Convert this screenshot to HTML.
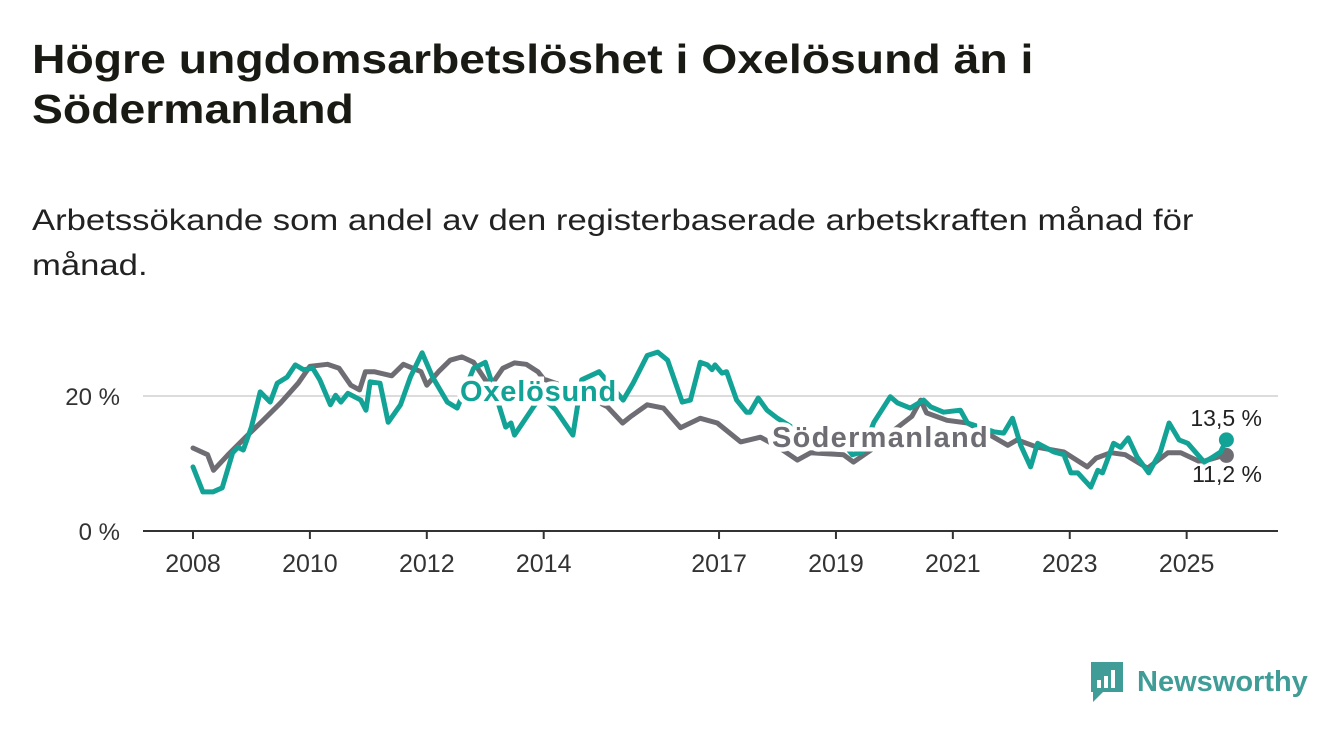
<!DOCTYPE html>
<html><head><meta charset="utf-8">
<style>
body{margin:0;width:1340px;height:734px;background:#fff;font-family:"Liberation Sans","DejaVu Sans",sans-serif;overflow:hidden;position:relative}
#title{position:absolute;left:32px;top:34px;font-size:41px;font-weight:bold;line-height:50px;color:#1a1a14;margin:0;transform:scaleX(1.13);transform-origin:0 0;white-space:nowrap}
#subtitle{position:absolute;left:32px;top:198px;font-size:30px;line-height:45px;color:#222;margin:0;transform:scaleX(1.155);transform-origin:0 0;white-space:nowrap}
svg{position:absolute;left:0;top:0}
</style></head><body>
<h1 id="title">Högre ungdomsarbetslöshet i Oxelösund än i<br>Södermanland</h1>
<p id="subtitle">Arbetssökande som andel av den registerbaserade arbetskraften månad för<br>månad.</p>
<svg id="chart" width="1340" height="734"></svg>
<script>
const sodYears=[2008.0,2008.25,2008.35,2008.6,2008.9,2009.2,2009.5,2009.8,2010.0,2010.3,2010.5,2010.7,2010.85,2010.95,2011.1,2011.4,2011.6,2011.9,2012.0,2012.2,2012.4,2012.6,2012.8,2013.0,2013.1,2013.3,2013.5,2013.7,2013.9,2014.0,2014.5,2015.09,2015.35,2015.48,2015.77,2016.05,2016.34,2016.68,2016.97,2017.37,2017.71,2018.0,2018.34,2018.57,2019.13,2019.3,2019.6,2020.0,2020.3,2020.45,2020.55,2020.9,2021.25,2021.7,2021.94,2022.1,2022.45,2022.9,2023.3,2023.45,2023.7,2023.95,2024.33,2024.68,2024.9,2025.24,2025.55,2025.68];
const sodValues=[12.3,11.3,9.0,11.3,13.9,16.4,19.0,21.9,24.4,24.7,24.1,21.6,20.9,23.6,23.6,23.0,24.7,23.6,21.6,23.6,25.3,25.8,25.0,22.4,21.6,24.1,24.9,24.7,23.6,22.5,21.0,18.4,16.0,16.9,18.7,18.2,15.3,16.7,16.0,13.2,13.9,12.5,10.5,11.6,11.3,10.2,12.0,15.0,17.0,19.4,17.5,16.4,16.0,13.9,12.7,13.5,12.4,11.7,9.5,10.8,11.6,11.3,9.3,11.6,11.6,10.2,11.0,11.2];
const oxeYears=[2008.0,2008.17,2008.34,2008.5,2008.68,2008.77,2008.86,2009.0,2009.15,2009.32,2009.44,2009.61,2009.75,2009.89,2010.05,2010.17,2010.35,2010.44,2010.53,2010.65,2010.87,2010.96,2011.03,2011.2,2011.34,2011.55,2011.72,2011.92,2012.1,2012.35,2012.52,2012.8,2013.0,2013.15,2013.35,2013.44,2013.5,2013.95,2014.2,2014.5,2014.65,2014.95,2015.36,2015.53,2015.77,2015.95,2016.12,2016.37,2016.51,2016.68,2016.8,2016.88,2016.93,2017.05,2017.13,2017.3,2017.47,2017.53,2017.67,2017.82,2018.0,2018.5,2019.0,2019.28,2019.45,2019.65,2019.93,2020.05,2020.27,2020.5,2020.62,2020.84,2021.13,2021.25,2021.7,2021.87,2022.02,2022.16,2022.33,2022.45,2022.73,2022.9,2023.02,2023.14,2023.36,2023.48,2023.56,2023.75,2023.87,2024.0,2024.15,2024.35,2024.55,2024.7,2024.87,2025.02,2025.3,2025.42,2025.58,2025.68];
const oxeValues=[9.5,5.8,5.8,6.4,11.6,12.4,12.0,15.4,20.6,19.1,21.9,22.8,24.6,23.9,24.1,22.4,18.7,20.1,19.1,20.4,19.4,17.9,22.1,21.9,16.1,18.7,22.8,26.4,22.8,19.1,18.2,24.1,25.0,21.0,15.4,16.0,14.2,20.0,18.0,14.2,22.4,23.6,19.4,21.9,26.0,26.5,25.3,19.1,19.4,25.0,24.6,23.9,24.6,23.4,23.6,19.4,17.6,17.6,19.7,17.9,16.7,14.0,14.5,11.3,11.7,16.1,19.9,19.0,18.2,19.4,18.4,17.6,17.9,16.0,14.7,14.5,16.7,12.7,9.5,13.0,11.7,11.3,8.6,8.6,6.5,9.0,8.6,13.0,12.4,13.8,11.0,8.6,11.7,16.0,13.5,13.0,10.2,10.8,11.7,13.5];
const yTicks=[0,20];
const xTicks=[2008,2010,2012,2014,2017,2019,2021,2023,2025];
const NS="http://www.w3.org/2000/svg";
const svg=document.getElementById('chart');
const x=v=>193+(v-2008)*58.45;
const y=v=>531-v*6.75;
function el(t,a,p){const e=document.createElementNS(NS,t);for(const k in a)e.setAttribute(k,a[k]);(p||svg).appendChild(e);return e;}
yTicks.forEach(t=>{
  if(t>0){const g=el('line',{x1:143,x2:1278,y1:y(t),y2:y(t),stroke:'#dcdcdc','stroke-width':2});
  
  }
  const l=el('text',{x:120,y:y(t)+9,'text-anchor':'end','font-size':24,fill:'#333'});
  l.textContent=t+' %';
  
  
});
xTicks.forEach(t=>{
  const tk=el('line',{x1:x(t),x2:x(t),y1:531,y2:539,stroke:'#333','stroke-width':2});
  
  
  const l=el('text',{x:x(t),y:572,'text-anchor':'middle','font-size':25,fill:'#333'});
  l.textContent=t;
  
  
});
const ax=el('line',{x1:143,x2:1278,y1:531,y2:531,stroke:'#333','stroke-width':2});


function series(xs,vs,color,name){
  const d=xs.map((t,i)=>(i?'L':'M')+x(t).toFixed(1)+','+y(vs[i]).toFixed(1)).join('');
  const p=el('path',{d:d,fill:'none',stroke:color,'stroke-width':5,'stroke-linejoin':'round','stroke-linecap':'round'});
  
  
  const c=el('circle',{cx:x(xs[xs.length-1]),cy:y(vs[vs.length-1]),r:7.5,fill:color});
  
  
}
series(sodYears,sodValues,'#6e6d73','sodermanland-line');
series(oxeYears,oxeValues,'#13a396','oxelosund-line');
function label(txt,lx,ly,color,name,opts){
  const t=el('text',{x:lx,y:ly,fill:color,stroke:'#fff','stroke-width':opts.sw||0,'paint-order':'stroke','font-size':opts.fs,'font-weight':opts.fw||'normal','text-anchor':opts.anchor||'start','letter-spacing':opts.ls||0});
  t.textContent=txt;
  
  
}
label('Oxelösund',460,401,'#13a396','oxelosund-label',{fs:29,fw:'bold',sw:9,ls:0.8});
label('Södermanland',772,447,'#6e6d73','sodermanland-label',{fs:29,fw:'bold',sw:9,ls:1.3});
label('13,5 %',1262,426,'#222','oxelosund-last-value',{fs:23,anchor:'end',sw:5});
label('11,2 %',1262,482,'#222','sodermanland-last-value',{fs:23,anchor:'end',sw:5});
</script>
<div style="position:absolute;left:1089px;top:660px;height:44px;display:flex;align-items:center">
  <svg width="36" height="44" style="position:static"><path d="M2 2h32v30H14l-10 10v-10H2z" fill="#3f9c96"/><rect x="8" y="20" width="4" height="8" fill="#fff"/><rect x="15" y="16" width="4" height="12" fill="#fff"/><rect x="22" y="10" width="4" height="18" fill="#fff"/></svg>
  <span style="font-size:29px;color:#3f9c96;margin-left:12px;font-weight:bold">Newsworthy</span>
</div>
</body></html>
